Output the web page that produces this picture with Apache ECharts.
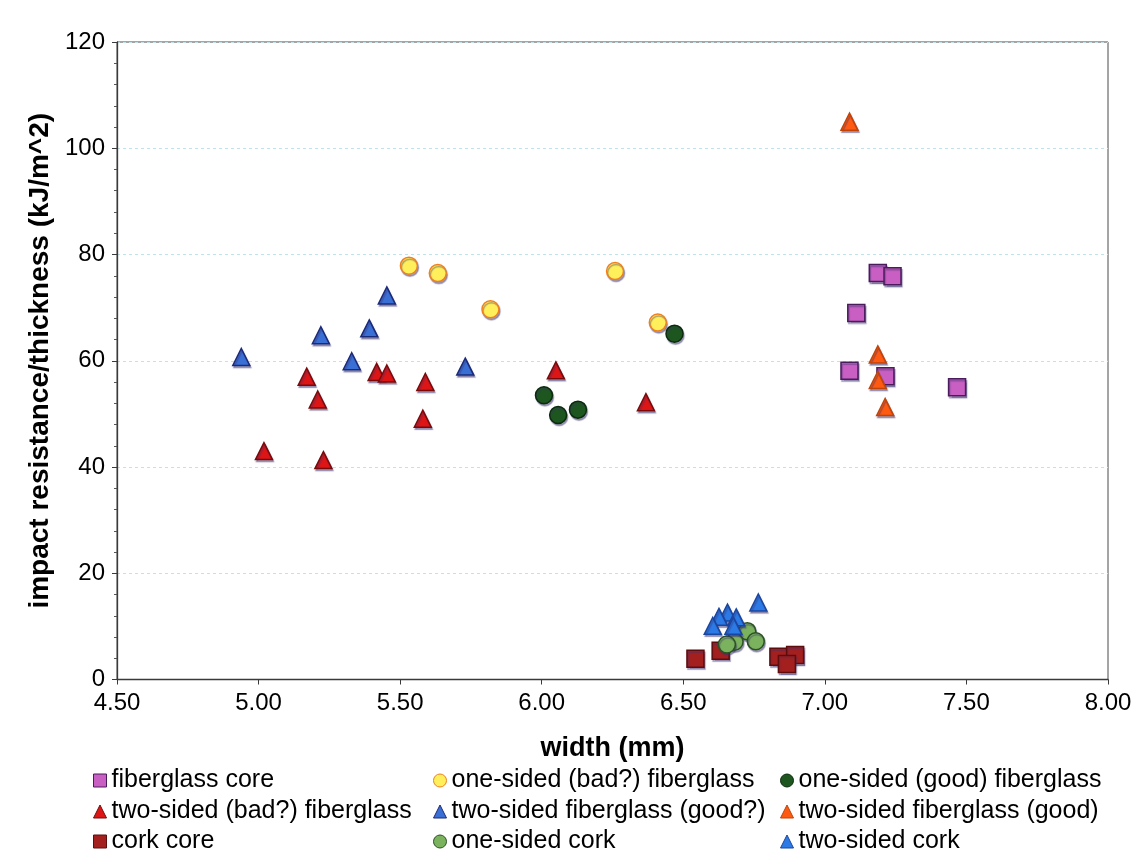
<!DOCTYPE html>
<html>
<head>
<meta charset="utf-8">
<script src="https://cdn.jsdelivr.net/npm/echarts@6/dist/echarts.min.js"></script>
<style>
html,body{margin:0;padding:0;background:#fff;}
#chart{width:1143px;height:860px;}
</style>
</head>
<body>
<div id="chart"></div>
<script>
// ---- data (width mm, impact resistance/thickness kJ/m^2) ----
const seriesNames = [
  'fiberglass core',
  'one-sided (bad?) fiberglass',
  'one-sided (good) fiberglass',
  'two-sided (bad?) fiberglass',
  'two-sided fiberglass (good?)',
  'two-sided fiberglass (good)',
  'cork core',
  'one-sided cork',
  'two-sided cork'
];
const fiberglassCore = [[7.187,76.5],[7.239,75.9],[7.111,69.0],[7.087,58.1],[7.214,57.1],[7.467,55.0]];
const oneSidedBadFiberglass = [[5.531,77.9],[5.633,76.5],[5.819,69.7],[6.259,76.9],[6.410,67.2]];
const oneSidedGoodFiberglass = [[6.469,65.1],[6.008,53.5],[6.058,49.8],[6.128,50.8]];
const twoSidedBadFiberglass = [[5.170,57.0],[5.209,52.7],[5.417,57.9],[5.453,57.6],[5.589,56.0],[5.580,49.1],[5.019,43.0],[5.229,41.3],[6.050,58.2],[6.368,52.2]];
const twoSidedFiberglassGoodQ = [[5.453,72.3],[5.391,66.1],[5.220,64.8],[4.939,60.7],[5.329,59.9],[5.730,58.9]];
const twoSidedFiberglassGood = [[7.087,105.0],[7.187,61.2],[7.187,56.4],[7.213,51.3]];
const corkCore = [[6.543,3.9],[6.632,5.4],[6.836,4.3],[6.895,4.6],[6.866,2.9]];
const oneSidedCork = [[6.726,9.1],[6.756,7.2],[6.681,7.1],[6.654,6.6]];
const twoSidedCork = [[6.765,14.5],[6.656,12.6],[6.626,11.8],[6.687,11.7],[6.604,10.1],[6.677,10.1]];

const xMin = 4.5, xMax = 8.0, xStep = 0.5;
const yMin = 0, yMax = 120, yStep = 20;

// ---- styles ----
const styles = [
  {symbol:'rect',     fill:'#c95fc2', border:'#4a1c5c'},
  {symbol:'circle',   fill:'#ffef5a', border:'#f0801e'},
  {symbol:'circle',   fill:'#1d561f', border:'#0c2a0c'},
  {symbol:'triangle', fill:'#dd1515', border:'#7a0a0a'},
  {symbol:'triangle', fill:'#3a70d6', border:'#1a2a7a'},
  {symbol:'triangle', fill:'#ff5a12', border:'#c04408'},
  {symbol:'rect',     fill:'#a3201f', border:'#5e0c0c'},
  {symbol:'circle',   fill:'#7bb25e', border:'#2a5222'},
  {symbol:'triangle', fill:'#2b7ae6', border:'#1a46a0'}
];
const datasets = [fiberglassCore, oneSidedBadFiberglass, oneSidedGoodFiberglass, twoSidedBadFiberglass,
  twoSidedFiberglassGoodQ, twoSidedFiberglassGood, corkCore, oneSidedCork, twoSidedCork];

const series = datasets.map((d, i) => ({
  name: seriesNames[i],
  type: 'scatter',
  data: d,
  symbol: styles[i].symbol,
  symbolSize: 17,
  z: 2 + i,
  itemStyle: {
    color: styles[i].fill,
    borderColor: styles[i].border,
    borderWidth: 1.5,
    opacity: 1,
    shadowColor: 'rgba(60,50,110,0.45)',
    shadowOffsetX: 1,
    shadowOffsetY: 2,
    shadowBlur: 1
  },
  emphasis: {disabled: true}
}));

const legendFont = {fontFamily:'Liberation Sans, Arial, sans-serif', fontSize:25, color:'#000'};
// legend grid: 3 rows x 3 columns, in the reference's reading order
const colLeft = [93, 433, 780];
const rowCenter = [780, 811, 841];
const legends = seriesNames.map((n, i) => {
  const r = Math.floor(i / 3), c = i % 3;
  return {
    orient:'horizontal', left:colLeft[c], top:rowCenter[r] - 12, padding:0,
    itemWidth:13, itemHeight:13, itemGap:0,
    data:[n], textStyle:legendFont, selectedMode:false,
    itemStyle:{shadowBlur:0, shadowOffsetX:0, shadowOffsetY:0, borderWidth:1}
  };
});

const chart = echarts.init(document.getElementById('chart'), null, {renderer:'canvas'});
chart.setOption({
  backgroundColor:'#ffffff',
  animation:false,
  grid:{left:117, right:35, top:42, bottom:180.5, show:true, borderColor:'#4a4a4a', borderWidth:1, backgroundColor:'transparent'},
  xAxis:{
    type:'value', min:xMin, max:xMax, interval:xStep,
    name:'width (mm)', nameLocation:'middle', nameGap:56,
    nameTextStyle:{fontFamily:'Liberation Sans, Arial, sans-serif', fontWeight:'bold', fontSize:27, color:'#000'},
    axisLine:{show:true, onZero:false, lineStyle:{color:'#3a3a3a', width:1.3}},
    axisTick:{show:true, length:5, lineStyle:{color:'#3a3a3a'}},
    axisLabel:{fontFamily:'Liberation Sans, Arial, sans-serif', fontSize:24, color:'#000', margin:12,
      formatter:v=>v.toFixed(2)},
    splitLine:{show:false}
  },
  yAxis:{
    type:'value', min:yMin, max:yMax, interval:yStep,
    name:'impact resistance/thickness (kJ/m^2)', nameLocation:'middle', nameGap:53,
    nameTextStyle:{fontFamily:'Liberation Sans, Arial, sans-serif', fontWeight:'bold', fontSize:28, color:'#000'},
    axisLine:{show:true, onZero:false, lineStyle:{color:'#3a3a3a', width:1.3}},
    axisTick:{show:true, length:5, lineStyle:{color:'#3a3a3a'}},
    minorTick:{show:true, splitNumber:5, length:3, lineStyle:{color:'#555'}},
    axisLabel:{fontFamily:'Liberation Sans, Arial, sans-serif', fontSize:24, color:'#000', margin:12},
    splitLine:{show:true, lineStyle:{color:'#bfe3ea', type:[3,3], width:1}}
  },
  legend: legends,
  series: series
});
</script>
</body>
</html>
